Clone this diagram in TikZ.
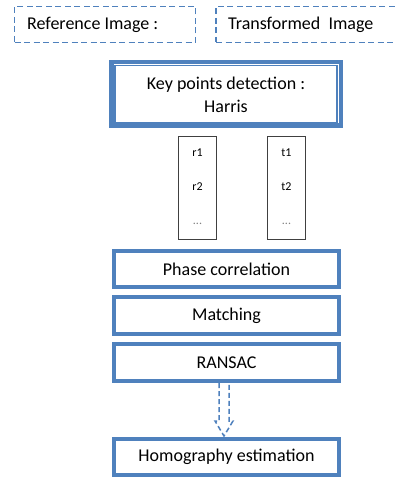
\documentclass[tikz,border=0pt]{standalone}
\usepackage{fontspec}
\setmainfont{Carlito}
\usetikzlibrary{calc}
\definecolor{officeblue}{HTML}{4F81BD}
\definecolor{listgray}{HTML}{404040}
\tikzset{
  dashbox/.style={draw=officeblue, line width=1.6pt, dash pattern=on 6pt off 3.5pt},
  keybox/.style={draw=officeblue, line width=4.5pt, inner sep=0pt, align=center, font=\fontsize{18}{23}\selectfont},
  stepbox/.style={draw=officeblue, line width=4pt, inner sep=0pt, minimum width=225pt, font=\fontsize{18}{22}\selectfont},
  listbox/.style={draw=listgray, line width=1.2pt, inner sep=0pt, minimum width=38pt, minimum height=103pt},
  listlabel/.style={inner sep=0pt, font=\fontsize{12}{14}\selectfont},
  blockarrow/.style={draw=officeblue, line width=1.5pt, dash pattern=on 5pt off 3pt, line join=miter}
}
\begin{document}
\begin{tikzpicture}[x=1pt,y=-1pt]
\useasboundingbox (0,0) rectangle (395,478);
\fill[white] (0,0) rectangle (395,478);
% top dashed boxes
\node[dashbox, inner sep=0pt, minimum width=181pt, minimum height=36pt] (refbox) at (105,24.5) {};
\node[anchor=west, inner sep=0pt, font=\fontsize{18}{22}\selectfont] (reftext) at (27,24.5) {Reference Image :};
\begin{scope}
\clip (0,0) rectangle (395,478);
\node[dashbox, inner sep=0pt, minimum width=190pt, minimum height=36pt] (trbox) at (311,24.5) {};
\end{scope}
\node[anchor=west, inner sep=0pt, font=\fontsize{18}{22}\selectfont] (trtext) at (228,24.5) {Transformed\ \ Image};
% key points box
\node[keybox, minimum width=229.5pt, minimum height=63.5pt] (key) at (226,94) {};
\draw[officeblue, line width=1.2pt] ($(key.north west)+(6,5.5)$) rectangle ($(key.south east)+(-6,-5.5)$);
\node[keybox, draw=none, anchor=base] (keytext1) at (226,90) {Key points detection :};
\node[keybox, draw=none, anchor=base] (keytext2) at (226,113) {Harris};
% list boxes
\node[listbox] (rlist) at (197.5,188) {};
\node[listlabel, anchor=base] (r1) at (197.5,157) {r1};
\node[listlabel, anchor=base] (r2) at (197.5,190) {r2};
\node[listlabel, anchor=base, text=gray] (rdots) at (197.5,224) {...};
\node[listbox] (tlist) at (286.5,188) {};
\node[listlabel, anchor=base] (t1) at (286.5,157) {t1};
\node[listlabel, anchor=base] (t2) at (286.5,190) {t2};
\node[listlabel, anchor=base, text=gray] (tdots) at (286.5,224) {...};
% steps
\node[stepbox, minimum height=36pt] (phase) at (226.5,269) {Phase correlation};
\node[stepbox, minimum height=37pt] (match) at (226.5,315.5) {Matching};
\node[stepbox, minimum height=37pt] (ransac) at (226.5,362.5) {RANSAC};
\node[stepbox, minimum height=36pt] (homog) at (226.5,457) {Homography estimation};
% dashed block arrow
\draw[blockarrow]
  ($(ransac.south)+(-7.5,0)$) -- ($(homog.north)+(-7.5,-16)$) -- ($(homog.north)+(-11.5,-16)$)
  -- ($(homog.north)+(-2.5,-1)$) -- ($(homog.north)+(6.5,-16)$) -- ($(homog.north)+(2.5,-16)$)
  -- ($(ransac.south)+(2.5,0)$);
\end{tikzpicture}
\end{document}
